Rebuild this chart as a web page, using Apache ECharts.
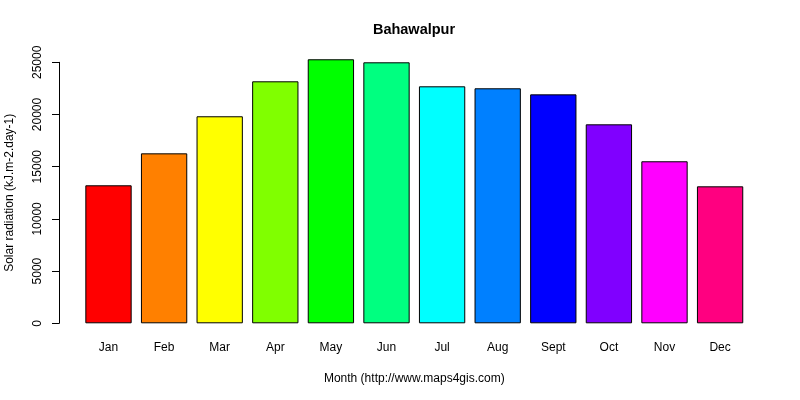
<!DOCTYPE html>
<html>
<head>
<meta charset="utf-8">
<script src="https://cdn.jsdelivr.net/npm/echarts@6/dist/echarts.min.js"></script>
<style>
  html, body { margin: 0; padding: 0; background: #fff; }
  #container { width: 800px; height: 400px; }
</style>
</head>
<body>
<div id="container"></div>
<script>
/* Data */
var months = ['Jan', 'Feb', 'Mar', 'Apr', 'May', 'Jun', 'Jul', 'Aug', 'Sept', 'Oct', 'Nov', 'Dec'];
var radiation = [13220, 16280, 19830, 23180, 25290, 25000, 22700, 22510, 21930, 19060, 15520, 13120];
var barColors = ['#FF0000', '#FF8000', '#FFFF00', '#80FF00', '#00FF00', '#00FF80',
                 '#00FFFF', '#0080FF', '#0000FF', '#8000FF', '#FF00FF', '#FF0080'];

var dom = document.getElementById('container');
var myChart = echarts.init(dom, null, {renderer: 'canvas'});
var font = 'Liberation Sans, Arial, sans-serif';

var option = {
    backgroundColor: '#ffffff',
    animation: false,
    title: {
        text: 'Bahawalpur',
        left: 414,
        top: 22,
        padding: 0,
        textAlign: 'center',
        textStyle: {
            fontFamily: font,
            fontSize: 14.5,
            fontWeight: 'bold',
            color: '#000'
        }
    },
    grid: {
        left: 80.7,
        right: 52.1,
        top: 62.3,
        bottom: 76.7,
        containLabel: false,
        outerBoundsMode: 'none'
    },
    xAxis: {
        type: 'category',
        data: months,
        boundaryGap: true,
        axisLine: {show: false},
        axisTick: {show: false},
        axisLabel: {
            margin: 18,
            fontFamily: font,
            fontSize: 12,
            color: '#000'
        },
        name: 'Month (http://www.maps4gis.com)',
        nameLocation: 'middle',
        nameGap: 49,
        nameTextStyle: {
            fontFamily: font,
            fontSize: 12,
            color: '#000'
        }
    },
    yAxis: {
        type: 'value',
        min: 0,
        max: 25000,
        interval: 5000,
        offset: 21.7,
        splitLine: {show: false},
        axisLine: {show: true, lineStyle: {color: '#000', width: 1}},
        axisTick: {show: true, length: 7, lineStyle: {color: '#000', width: 1}},
        axisLabel: {
            rotate: 90,
            margin: 15,
            fontFamily: font,
            fontSize: 12,
            color: '#000',
            formatter: function (v) { return String(v); }
        },
        name: 'Solar radiation (kJ.m-2.day-1)',
        nameLocation: 'middle',
        nameGap: 43,
        nameTextStyle: {
            fontFamily: font,
            fontSize: 12,
            color: '#000'
        }
    },
    series: [
        {
            type: 'bar',
            clip: false,
            barCategoryGap: '16.7%',
            data: radiation.map(function (v, i) {
                return {value: v, itemStyle: {color: barColors[i]}};
            }),
            itemStyle: {
                borderColor: '#000',
                borderWidth: 1
            }
        }
    ]
};

myChart.setOption(option);
</script>
</body>
</html>
